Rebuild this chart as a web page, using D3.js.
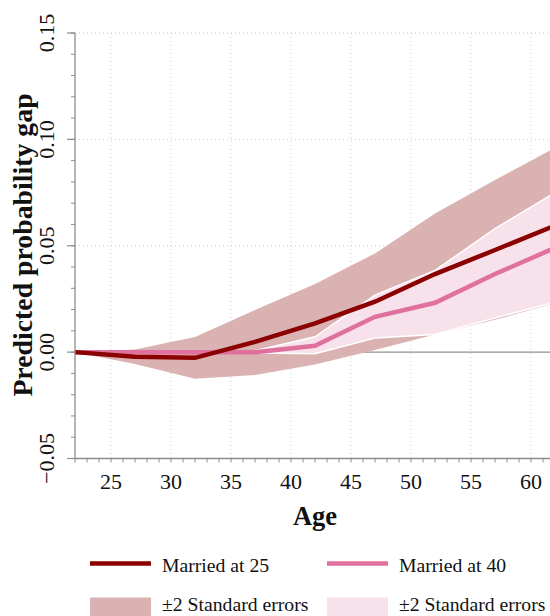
<!DOCTYPE html>
<html>
<head>
<meta charset="utf-8">
<script src="https://cdn.jsdelivr.net/npm/d3@7"></script>
<style>
  html, body { margin: 0; padding: 0; background: #fff; overflow: hidden; }
  svg { display: block; font-family: "Liberation Serif", "Times New Roman", serif; }
</style>
</head>
<body>
<svg id="chart" width="550" height="616"></svg>
<script>
// Ages at which the predicted gap is evaluated
const ages = [22, 27, 32, 37, 42, 47, 52, 57, 62];

// Married at 25: point estimate and ±2 SE band
const married25 = [0, -0.0022, -0.0027, 0.0048, 0.0135, 0.0237, 0.0367, 0.048, 0.0595];
const married25Lo = [0, -0.0056, -0.0125, -0.0108, -0.0058, 0.001, 0.0083, 0.0152, 0.023];
const married25Hi = [0, 0.0012, 0.0071, 0.0198, 0.032, 0.0464, 0.0652, 0.0809, 0.096];

// Married at 40: point estimate and ±2 SE band
const married40 = [0, 0, 0, 0, 0.003, 0.0166, 0.0232, 0.0367, 0.049];
const married40Lo = [0, 0, 0, -0.0004, -0.0008, 0.0066, 0.0083, 0.016, 0.0235];
const married40Hi = [0, 0, 0, 0.0006, 0.0072, 0.0268, 0.0384, 0.058, 0.075];

// Axis ticks
const xTicks = [25, 30, 35, 40, 45, 50, 55, 60];
const yTicks = [-0.05, 0.00, 0.05, 0.10, 0.15];
const yTickLabels = ["\u22120.05", "0.00", "0.05", "0.10", "0.15"];

const colDark = "#8b0000", colPink = "#e0719f";
const bandDark = "#dbb2b2", bandPink = "#f7e1ea";
const axisGrey = "#8c8c8c", gridGrey = "#c8c8c8";

const svg = d3.select("#chart");
const x = d3.scaleLinear().domain([22, 62]).range([75, 555]);
const y = d3.scaleLinear().domain([-0.05, 0.15]).range([458.5, 33]);

const rows = ages.map((a, i) => ({
  age: a, m25: married25[i], lo25: married25Lo[i], hi25: married25Hi[i],
  m40: married40[i], lo40: married40Lo[i], hi40: married40Hi[i]
}));

// Dotted grid
const grid = svg.append("g");
grid.selectAll("line.v").data(xTicks).join("line")
  .attr("x1", d => x(d)).attr("x2", d => x(d))
  .attr("y1", y(0.15)).attr("y2", y(-0.05))
  .attr("stroke", gridGrey).attr("stroke-width", 1).attr("stroke-dasharray", "1,3");
grid.selectAll("line.h").data([0.05, 0.10, 0.15]).join("line")
  .attr("x1", x(22)).attr("x2", 550)
  .attr("y1", d => y(d)).attr("y2", d => y(d))
  .attr("stroke", gridGrey).attr("stroke-width", 1).attr("stroke-dasharray", "1,3");

// Zero reference line
svg.append("line")
  .attr("x1", x(22)).attr("x2", 550).attr("y1", y(0)).attr("y2", y(0))
  .attr("stroke", "#8f8f8f").attr("stroke-width", 1.2);

// Confidence bands
const area25 = d3.area().x(d => x(d.age)).y0(d => y(d.lo25)).y1(d => y(d.hi25));
const area40 = d3.area().x(d => x(d.age)).y0(d => y(d.lo40)).y1(d => y(d.hi40));
svg.append("path").datum(rows).attr("d", area25).attr("fill", bandDark);
svg.append("path").datum(rows).attr("d", area40).attr("fill", bandPink)
  .attr("stroke", "#fff").attr("stroke-width", 1.5);

// Estimate lines
const line40 = d3.line().x(d => x(d.age)).y(d => y(d.m40));
const line25 = d3.line().x(d => x(d.age)).y(d => y(d.m25));
svg.append("path").datum(rows).attr("d", line40)
  .attr("fill", "none").attr("stroke", colPink).attr("stroke-width", 4.5);
svg.append("path").datum(rows).attr("d", line25)
  .attr("fill", "none").attr("stroke", colDark).attr("stroke-width", 4.5);

// Y axis
const yAxis = svg.append("g");
yAxis.append("line").attr("x1", 75).attr("x2", 75).attr("y1", y(0.15)).attr("y2", y(-0.05))
  .attr("stroke", axisGrey).attr("stroke-width", 1.3);
const yMinor = d3.range(-50, 151, 10).map(v => v / 1000);
yAxis.selectAll("line.minor").data(yMinor).join("line")
  .attr("x1", 71).attr("x2", 75).attr("y1", d => y(d)).attr("y2", d => y(d))
  .attr("stroke", axisGrey).attr("stroke-width", 1);
yAxis.selectAll("line.major").data(yTicks).join("line")
  .attr("x1", 67).attr("x2", 75).attr("y1", d => y(d)).attr("y2", d => y(d))
  .attr("stroke", axisGrey).attr("stroke-width", 1.2);
yAxis.selectAll("text").data(yTicks).join("text")
  .attr("transform", d => `translate(54,${y(d)}) rotate(-90)`)
  .attr("text-anchor", "middle").attr("font-size", 22).attr("fill", "#111")
  .text((d, i) => yTickLabels[i]);

// X axis
const xAxis = svg.append("g");
xAxis.append("line").attr("x1", 75).attr("x2", 550).attr("y1", y(-0.05)).attr("y2", y(-0.05))
  .attr("stroke", axisGrey).attr("stroke-width", 1.3);
xAxis.selectAll("line.minor").data(d3.range(22, 62)).join("line")
  .attr("x1", d => x(d)).attr("x2", d => x(d))
  .attr("y1", y(-0.05)).attr("y2", y(-0.05) + 4)
  .attr("stroke", axisGrey).attr("stroke-width", 1);
xAxis.selectAll("text").data(xTicks).join("text")
  .attr("x", d => x(d)).attr("y", 489)
  .attr("text-anchor", "middle").attr("font-size", 22).attr("fill", "#111")
  .text(d => d);

// Axis titles
svg.append("text").attr("x", 315).attr("y", 525).attr("text-anchor", "middle")
  .attr("font-size", 26.5).attr("font-weight", "bold").attr("fill", "#111").text("Age");
svg.append("text").attr("transform", "translate(32,245) rotate(-90)")
  .attr("text-anchor", "middle").attr("font-size", 27.8).attr("font-weight", "bold")
  .attr("fill", "#111").text("Predicted probability gap");

// Legend
const legend = svg.append("g").attr("font-size", 19.7).attr("fill", "#111");
const legendLines = [
  { label: "Married at 25", color: colDark, x0: 90 },
  { label: "Married at 40", color: colPink, x0: 327 }
];
const legendBands = [
  { label: "\u00b12 Standard errors", color: bandDark, x0: 90 },
  { label: "\u00b12 Standard errors", color: bandPink, x0: 327 }
];
legendLines.forEach(d => {
  legend.append("line").attr("x1", d.x0).attr("x2", d.x0 + 61)
    .attr("y1", 563.5).attr("y2", 563.5).attr("stroke", d.color).attr("stroke-width", 4.5);
  legend.append("text").attr("x", d.x0 + 72).attr("y", 571.5).text(d.label);
});
legendBands.forEach(d => {
  legend.append("rect").attr("x", d.x0).attr("y", 597.5).attr("width", 61).attr("height", 22)
    .attr("fill", d.color);
  legend.append("text").attr("x", d.x0 + 72).attr("y", 611).text(d.label);
});
</script>
</body>
</html>
